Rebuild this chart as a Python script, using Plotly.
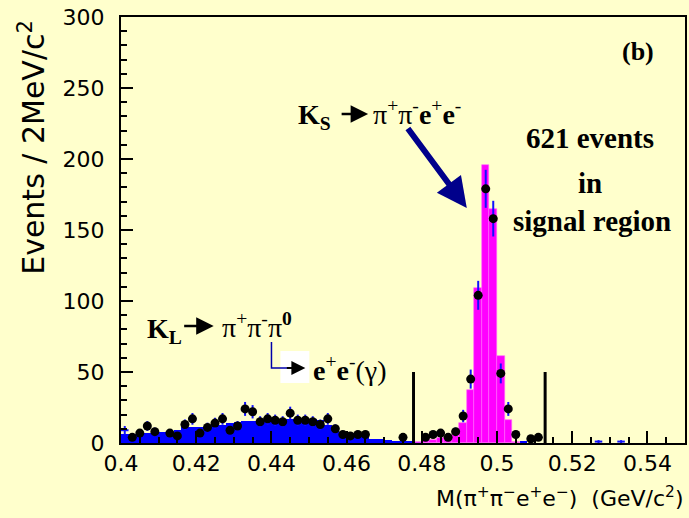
import numpy as np
import plotly.graph_objects as go

# ---------------- data ----------------
BIN_WIDTH = 0.002
# K_L -> pi+ pi- pi0 (Dalitz) MC histogram, bins starting at 0.400 GeV
blue_start = 0.400
blue_counts = [6, 6, 7, 7, 8, 8, 8, 9, 11, 11.5,
               11.5, 12.5, 13, 13, 14, 14.5, 15.5, 15.5, 16, 16.5,
               17, 17, 16.7, 16.7, 16.7, 16.7, 16.5, 13, 11.5, 7,
               7, 6.5, 5, 3, 3, 2, 1.5, 1.5, 1, 0.5,
               0, 0, 0, 0, 0, 0, 0, 0, 0, 0,
               0, 0, 0, 1]
# K_S -> pi+ pi- e+ e- signal MC histogram, bins starting at 0.478 GeV
pink_start = 0.478
pink_counts = [1, 2, 2, 3.3, 3.3, 5.6, 14, 37, 109, 196, 165, 61, 16, 1]

# data points (bin centres, counts)
data_x = [0.403, 0.405, 0.407, 0.409, 0.413, 0.415, 0.417, 0.419, 0.421, 0.423,
          0.425, 0.427, 0.429, 0.431, 0.433, 0.435, 0.437, 0.439, 0.441, 0.443,
          0.445, 0.447, 0.449, 0.451, 0.453, 0.455, 0.457, 0.459, 0.461, 0.463,
          0.465, 0.475, 0.481, 0.483, 0.485, 0.487, 0.489, 0.491, 0.493, 0.495,
          0.497, 0.499, 0.501, 0.503, 0.505, 0.509, 0.511]
data_y = [4, 7, 12, 8, 7, 5, 13, 17, 7, 11,
          14, 17, 9, 12, 24, 22, 15, 17, 16, 15,
          21, 16, 16, 15, 13, 17, 10, 6, 5, 6,
          6, 4, 4, 6, 7, 4, 8, 19, 45, 104,
          179, 158, 49, 24, 6, 3, 4]
# bins drawn only as error crosses
cross_x = [0.401, 0.527, 0.533]
cross_y = [9, 1, 1]

x_tickvals = [0.40, 0.42, 0.44, 0.46, 0.48, 0.50, 0.52, 0.54]
x_ticktext = ["0.4", "0.42", "0.44", "0.46", "0.48", "0.5", "0.52", "0.54"]
signal_window = [0.4778, 0.5128]
signal_line_height = 50

# ---------------- figure ----------------
BG = "#ffffcc"
blue_x = [blue_start + (i + 0.5) * BIN_WIDTH for i in range(len(blue_counts))]
pink_x = [pink_start + (i + 0.5) * BIN_WIDTH for i in range(len(pink_counts))]

fig = go.Figure()
fig.add_trace(go.Bar(x=blue_x, y=blue_counts, width=BIN_WIDTH,
                     marker=dict(color="#0000ff", line=dict(width=0)),
                     showlegend=False, hoverinfo="skip"))
fig.add_trace(go.Bar(x=pink_x, y=pink_counts, width=BIN_WIDTH,
                     marker=dict(color="#ff00ff", line=dict(width=0.6, color="#ff66ff")),
                     showlegend=False, hoverinfo="skip"))
fig.add_trace(go.Scatter(x=data_x, y=data_y, mode="markers",
                         marker=dict(color="black", size=9),
                         error_y=dict(type="data", array=list(np.sqrt(data_y)),
                                      color="#1010ff", thickness=2, width=0),
                         error_x=dict(type="constant", value=BIN_WIDTH / 2,
                                      color="#1010ff", thickness=2, width=0),
                         showlegend=False))
fig.add_trace(go.Scatter(x=cross_x, y=cross_y, mode="markers",
                         marker=dict(color="rgba(0,0,0,0)", size=1),
                         error_y=dict(type="data", array=list(np.sqrt(cross_y)),
                                      color="#1010ff", thickness=2, width=0),
                         error_x=dict(type="constant", value=BIN_WIDTH / 2,
                                      color="#1010ff", thickness=2, width=0),
                         showlegend=False))

for xv in signal_window:
    fig.add_shape(type="line", x0=xv, x1=xv, y0=0, y1=signal_line_height,
                  xref="x", yref="y", line=dict(color="black", width=3))

# pixel -> paper helpers (plot area 121..687 x 17..443)
L, R, T, B = 121, 687, 17, 443
def px(x):
    return (x - L) / (R - L)
def py(y):
    return (B - y) / (B - T)

SERIF = "Liberation Serif"
SANS = "DejaVu Sans"
ann = []
def text(x, y, s, size, xanchor="left", yanchor="middle", family=SERIF, angle=0, color="black"):
    ann.append(dict(x=px(x), y=py(y), xref="paper", yref="paper", text=s,
                    showarrow=False, xanchor=xanchor, yanchor=yanchor, textangle=angle,
                    font=dict(family=family, size=size, color=color)))
def arrow(x0, y0, x1, y1, width, size, color):
    ann.append(dict(x=px(x1), y=py(y1), xref="paper", yref="paper", text="",
                    showarrow=True, ax=x0 - x1, ay=y0 - y1, arrowhead=2,
                    arrowwidth=width, arrowsize=size, arrowcolor=color, standoff=0))

text(640, 52, "<b>(b)</b>", 26, xanchor="center")
text(297, 116, "<b>K<sub>S</sub></b>", 28)
arrow(341, 114, 369, 114, 2.5, 1.4, "black")
text(372, 112, "π<sup>+</sup>π<sup>-</sup><b>e</b><sup>+</sup><b>e</b><sup>-</sup>", 28)
text(592, 138, "<b>621 events</b>", 29, xanchor="center")
text(592, 183, "<b>in</b>", 29, xanchor="center")
text(594, 221, "<b>signal region</b>", 29, xanchor="center")
arrow(408, 127, 468, 208, 6, 1.0, "#00008b")

text(145, 330, "<b>K<sub>L</sub></b>", 28)
arrow(183, 326, 214, 326, 2.5, 1.4, "black")
text(220, 326, "π<sup>+</sup>π<sup>-</sup>π<sup><b>0</b></sup>", 28)
text(312, 368, "<b>e</b><sup>+</sup><b>e</b><sup>-</sup>(γ)", 28)

text(32, 18, "Events / 2MeV/c<sup>2</sup>", 30, xanchor="center", yanchor="top", family=SANS, angle=-90)
text(687, 497, "M(π<sup>+</sup>π<sup>−</sup>e<sup>+</sup>e<sup>−</sup>)  (GeV/c<sup>2</sup>)", 22,
     xanchor="right", family=SANS)

# K_L decoration: white box, blue elbow line, black arrow head
fig.add_shape(type="rect", xref="paper", yref="paper", x0=px(281), x1=px(310), y0=py(383), y1=py(351),
              fillcolor="white", line=dict(width=0), layer="above")
fig.add_shape(type="path", xref="paper", yref="paper",
              path=f"M {px(272)} {py(342)} L {px(272)} {py(368)} L {px(290)} {py(368)}",
              line=dict(color="#0000aa", width=1.5), layer="above")
arrow(286, 368, 306, 368, 2, 1.4, "black")

fig.update_layout(
    width=689, height=518,
    margin=dict(l=L, r=689 - R, t=T, b=518 - B),
    paper_bgcolor=BG, plot_bgcolor=BG,
    barmode="overlay", bargap=0,
    annotations=ann,
    xaxis=dict(range=[0.4, 0.55], tickvals=x_tickvals, ticktext=x_ticktext,
               ticks="inside", ticklen=12, tickwidth=1.5, tickcolor="black",
               minor=dict(dtick=0.005, tick0=0.4, ticks="inside", ticklen=6, tickcolor="black", tickwidth=1.5),
               showline=True, linecolor="black", linewidth=2, mirror=True,
               showgrid=False, zeroline=False,
               tickfont=dict(family=SANS, size=22, color="black")),
    yaxis=dict(range=[0, 300], tickvals=[0, 50, 100, 150, 200, 250, 300],
               ticks="inside", ticklen=12, tickwidth=1.5, tickcolor="black",
               minor=dict(dtick=10, ticks="inside", ticklen=6, tickcolor="black", tickwidth=1.5),
               showline=True, linecolor="black", linewidth=2, mirror=True,
               showgrid=False, zeroline=False, ticklabelstandoff=10,
               tickfont=dict(family=SANS, size=22, color="black")),
)

fig.write_html("out.html", config={"displayModeBar": False},
               post_script="document.body.style.margin='0px';document.body.style.overflow='hidden';")
